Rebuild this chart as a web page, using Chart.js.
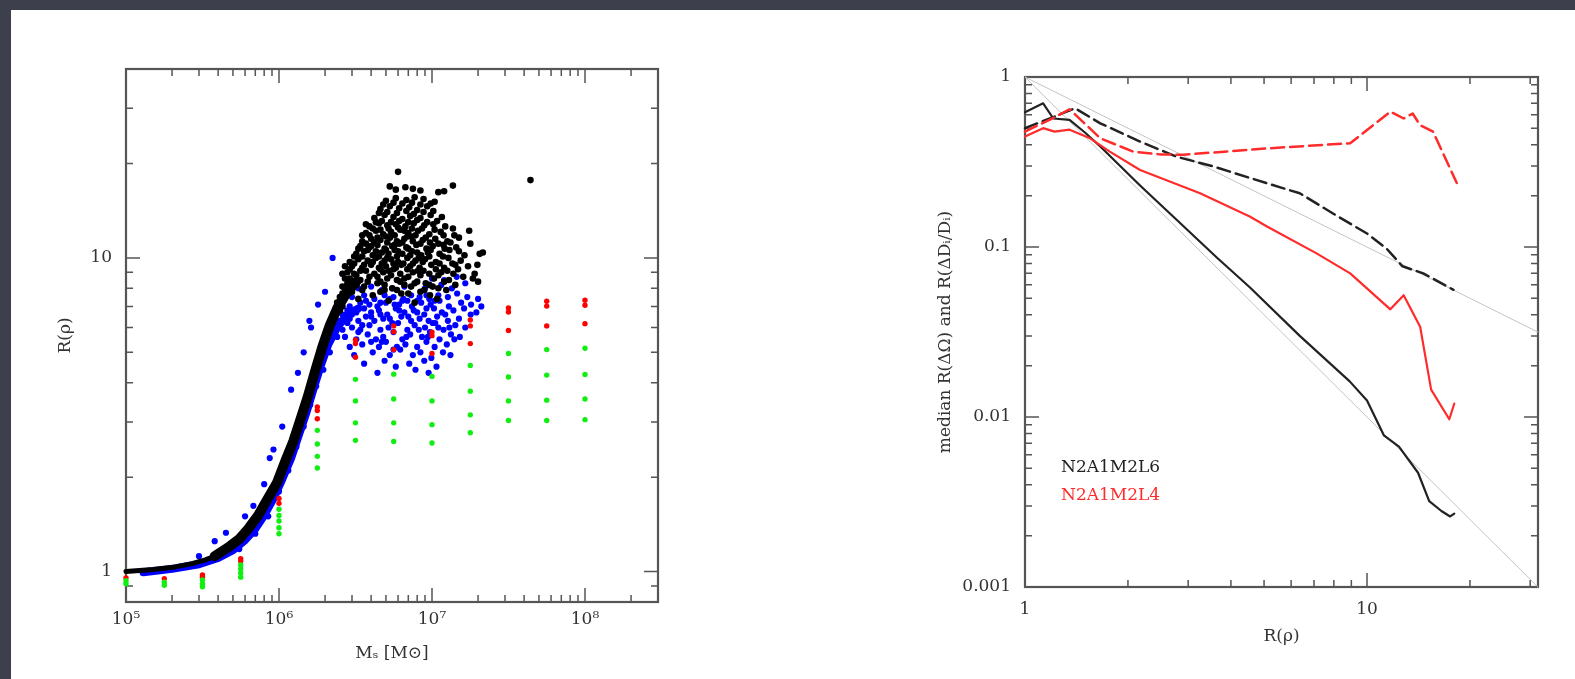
<!DOCTYPE html>
<html>
<head>
<meta charset="utf-8">
<script src="https://cdn.jsdelivr.net/npm/chart.js@4.4.1/dist/chart.umd.min.js"></script>
<style>
  body { margin: 0; width: 1575px; height: 679px; overflow: hidden; background: #3d404c; position: relative; }
  #sheet { position: absolute; left: 11px; top: 10px; right: 0; bottom: 0; background: #fff; }
  #massPlot { position: absolute; left: 0; top: 0; }
  #medianPlot { position: absolute; left: 760px; top: 0; }
</style>
</head>
<body>
<div id="sheet"></div>
<canvas id="massPlot" width="720" height="679"></canvas>
<canvas id="medianPlot" width="815" height="679"></canvas>
<script>
// ---- left panel: R(rho) against satellite mass ----
const massTicks = [1e5, 1e6, 1e7, 1e8];
const massLabels = ['10⁵', '10⁶', '10⁷', '10⁸'];
const ratioTicks = [1, 10];
const ratioLabels = ['1', '10'];

// runs sampled on a grid of masses (quarter decades)
const gridMass = [1e5, 1.78e5, 3.16e5, 5.62e5, 1e6, 1.78e6, 3.16e6, 5.62e6, 1e7, 1.78e7, 3.16e7, 5.62e7, 1e8];
const gridGreen = [
  [0.935, 0.915], [0.925, 0.905], [0.94, 0.915, 0.895], [1.05, 1.02, 0.99, 0.96],
  [1.58, 1.51, 1.45, 1.38, 1.32], [2.82, 2.55, 2.33, 2.14], [4.1, 3.5, 2.98, 2.62],
  [4.26, 3.55, 2.98, 2.6], [4.19, 3.5, 2.94, 2.57], [4.54, 3.76, 3.16, 2.77],
  [4.96, 4.17, 3.5, 3.03], [5.1, 4.23, 3.52, 3.03], [5.15, 4.25, 3.55, 3.05]
];
const gridRed = [
  [0.955], [0.95], [0.975, 0.96], [1.1, 1.08], [1.71, 1.65], [3.35, 3.26, 3.07],
  [5.48, 5.33, 4.82], [6.07, 5.81, 5.1], [5.8, 5.65, 4.96], [6.34, 6.07, 5.33],
  [6.92, 6.72, 5.87], [7.27, 7.02, 6.07], [7.33, 7.06, 6.17]
];

// dense ridge of the population
const ridgeLow = [[1e5, 1.0], [1.5e5, 1.015], [2.1e5, 1.035], [2.7e5, 1.06], [3.3e5, 1.09], [4e5, 1.13]];
const ridgeBlack = [[3.8e5, 1.12], [4.6e5, 1.19], [5.5e5, 1.27], [6.3e5, 1.37], [7.3e5, 1.51], [8.4e5, 1.7],
  [9.7e5, 1.92], [1.1e6, 2.25], [1.24e6, 2.6], [1.38e6, 3.05], [1.54e6, 3.6], [1.72e6, 4.35], [1.92e6, 5.2],
  [2.15e6, 6.1], [2.4e6, 6.9], [2.75e6, 7.7], [3.2e6, 8.4]];
const ridgeBlue = [[1.3e5, 0.995], [2e5, 1.02], [3e5, 1.055], [4e5, 1.105], [5e5, 1.17], [6e5, 1.26], [7e5, 1.37],
  [8e5, 1.51], [9.2e5, 1.71], [1.05e6, 1.97], [1.2e6, 2.3], [1.35e6, 2.73], [1.5e6, 3.18], [1.68e6, 3.82],
  [1.88e6, 4.55], [2.1e6, 5.3], [2.4e6, 6.0], [2.8e6, 6.6], [3.3e6, 6.9]];

const cloudBlack = [
  [2.4e6, 7.2], [3.3e6, 7.4], [5.2e6, 7.3], [7.7e6, 7.2], [10.8e6, 7.4],
  [2.6e6, 7.7], [3.0e6, 7.8], [4.1e6, 7.6], [4.9e6, 7.9], [6.3e6, 7.7], [8.4e6, 7.8], [9.7e6, 7.6], [12.4e6, 7.9],
  [2.7e6, 8.0], [3.2e6, 8.2], [3.6e6, 8.1], [4.4e6, 8.3], [5.5e6, 8.0], [6.6e6, 8.2], [7.3e6, 8.1], [9.1e6, 8.3], [11.0e6, 8.0], [14.2e6, 8.2],
  [2.9e6, 8.6], [3.4e6, 8.5], [3.9e6, 8.7], [4.6e6, 8.4], [5.1e6, 8.6], [5.9e6, 8.5], [7.0e6, 8.7], [8.0e6, 8.4], [10.3e6, 8.6], [12.9e6, 8.5], [16.0e6, 8.7],
  [2.8e6, 9.0], [3.1e6, 8.9], [3.7e6, 9.1], [4.2e6, 8.9], [4.8e6, 9.0], [5.6e6, 9.2], [6.2e6, 8.9], [7.5e6, 9.0], [8.8e6, 9.1], [9.6e6, 8.9], [11.5e6, 9.0], [14.8e6, 9.2], [18.5e6, 8.6],
  [3.0e6, 9.4], [3.5e6, 9.3], [4.0e6, 9.5], [4.5e6, 9.3], [5.0e6, 9.4], [5.8e6, 9.3], [6.5e6, 9.6], [7.2e6, 9.4], [8.3e6, 9.3], [9.9e6, 9.5], [12.0e6, 9.3], [13.6e6, 9.6], [17.2e6, 9.4],
  [2.9e6, 9.7], [3.3e6, 9.9], [3.8e6, 9.8], [4.3e6, 10.0], [4.9e6, 9.8], [5.4e6, 9.9], [6.0e6, 9.7], [6.9e6, 10.0], [7.8e6, 9.8], [9.0e6, 9.9], [10.6e6, 9.7], [12.8e6, 10.0], [15.4e6, 9.8], [19.8e6, 9.5],
  [3.2e6, 10.3], [3.6e6, 10.5], [4.1e6, 10.2], [4.7e6, 10.4], [5.2e6, 10.3], [5.7e6, 10.6], [6.4e6, 10.3], [7.4e6, 10.5], [8.5e6, 10.2], [9.4e6, 10.4], [11.2e6, 10.3], [13.0e6, 10.6], [16.3e6, 10.2], [21.5e6, 10.4],
  [3.4e6, 10.9], [3.9e6, 10.8], [4.4e6, 11.0], [4.9e6, 10.7], [5.5e6, 10.9], [6.1e6, 11.1], [6.8e6, 10.8], [7.9e6, 11.0], [9.2e6, 10.7], [10.1e6, 10.9], [11.9e6, 11.0], [14.4e6, 10.8], [17.8e6, 11.1],
  [3.5e6, 11.3], [4.0e6, 11.5], [4.6e6, 11.4], [5.3e6, 11.6], [5.9e6, 11.3], [6.6e6, 11.5], [7.3e6, 11.7], [8.7e6, 11.4], [10.5e6, 11.5], [12.6e6, 11.3], [15.0e6, 11.6],
  [3.7e6, 12.0], [4.3e6, 12.2], [4.8e6, 11.9], [5.4e6, 12.1], [6.2e6, 12.3], [7.0e6, 12.0], [8.1e6, 12.2], [9.6e6, 11.9], [11.4e6, 12.1], [13.7e6, 12.4],
  [3.9e6, 12.6], [4.5e6, 12.9], [5.1e6, 12.7], [5.8e6, 12.8], [6.7e6, 12.6], [7.6e6, 12.9], [8.9e6, 12.7], [10.2e6, 12.8], [12.2e6, 12.6],
  [4.2e6, 13.4], [4.9e6, 13.7], [5.6e6, 13.5], [6.4e6, 13.3], [7.2e6, 13.6], [8.4e6, 13.4], [9.8e6, 13.7], [11.6e6, 13.5],
  [4.6e6, 14.3], [5.3e6, 14.6], [6.1e6, 14.4], [7.1e6, 14.5], [8.0e6, 14.2], [9.3e6, 14.6],
  [5.0e6, 15.2], [5.8e6, 15.5], [6.8e6, 15.3], [7.7e6, 15.6], [8.8e6, 15.4], [10.4e6, 15.1],
  [3.5e6, 7.9], [4.6e6, 7.8], [5.9e6, 7.9], [7.0e6, 7.7], [8.9e6, 7.9], [10.1e6, 8.1],
  [3.0e6, 8.3], [3.8e6, 8.4], [4.9e6, 8.2], [6.2e6, 8.4], [7.7e6, 8.3], [9.6e6, 8.2], [12.0e6, 8.4],
  [3.2e6, 8.8], [4.4e6, 8.7], [5.4e6, 8.8], [6.6e6, 8.6], [8.4e6, 8.8], [11.0e6, 8.8], [13.8e6, 8.9],
  [3.4e6, 9.1], [4.6e6, 9.2], [5.2e6, 9.1], [6.9e6, 9.2], [8.1e6, 9.1], [10.6e6, 9.2], [12.6e6, 9.1],
  [3.1e6, 9.6], [4.1e6, 9.7], [4.7e6, 9.6], [5.6e6, 9.6], [6.3e6, 9.5], [7.5e6, 9.6], [8.7e6, 9.7], [11.2e6, 9.6], [14.2e6, 9.5],
  [3.5e6, 10.1], [4.5e6, 10.1], [5.1e6, 10.0], [5.9e6, 10.1], [7.2e6, 10.2], [8.2e6, 10.0], [9.6e6, 10.1], [11.8e6, 10.1],
  [3.8e6, 10.6], [4.3e6, 10.5], [5.0e6, 10.6], [6.0e6, 10.5], [7.0e6, 10.7], [8.0e6, 10.4], [9.8e6, 10.6], [12.1e6, 10.7], [15.0e6, 10.5],
  [3.7e6, 11.1], [4.2e6, 11.2], [5.1e6, 11.2], [5.7e6, 11.0], [6.4e6, 11.2], [7.5e6, 11.3], [8.4e6, 11.1], [9.7e6, 11.2], [11.0e6, 11.1], [13.2e6, 11.2],
  [3.9e6, 11.8], [4.4e6, 11.6], [5.0e6, 11.7], [5.7e6, 11.8], [6.9e6, 11.7], [7.8e6, 11.8], [9.1e6, 11.6], [11.9e6, 11.8], [14.0e6, 11.8],
  [4.1e6, 12.4], [4.6e6, 12.3], [5.2e6, 12.4], [6.0e6, 12.5], [6.6e6, 12.2], [7.4e6, 12.4], [8.6e6, 12.4], [10.4e6, 12.3],
  [4.3e6, 13.0], [4.7e6, 13.1], [5.4e6, 13.0], [6.1e6, 13.1], [7.0e6, 13.0], [8.0e6, 13.2], [9.3e6, 13.0], [10.8e6, 13.1],
  [4.5e6, 13.9], [5.1e6, 14.0], [5.9e6, 13.9], [6.8e6, 14.1], [7.6e6, 13.8], [8.8e6, 14.0], [10.2e6, 14.1],
  [4.8e6, 14.8], [5.6e6, 15.0], [6.4e6, 14.9], [7.4e6, 15.0], [8.4e6, 14.8], [9.8e6, 14.9],
  [2.5e6, 7.5], [2.6e6, 8.1], [2.7e6, 8.6], [2.8e6, 8.3], [2.9e6, 9.2], [3.0e6, 8.0], [2.6e6, 7.0], [2.5e6, 6.8],
  [2.7e6, 9.4], [3.1e6, 10.1], [3.3e6, 10.7], [3.5e6, 11.8], [3.7e6, 12.8], [2.6e6, 8.9], [3.6e6, 9.5], [4.0e6, 10.9],
  [6.0e6, 18.8], [5.3e6, 16.9], [5.8e6, 16.5], [6.7e6, 16.8], [7.5e6, 16.6], [8.4e6, 16.4], [11.0e6, 16.2],
  [12.0e6, 16.3], [13.7e6, 17.0], [44e6, 17.7], [17.5e6, 12.2], [20.5e6, 10.3], [19.0e6, 8.9], [20e6, 8.4]
];

const cloudBlue = [
  [4.4e6, 4.3], [7.8e6, 4.4], [9.5e6, 4.3],
  [3.6e6, 4.6], [4.9e6, 4.7], [5.8e6, 4.5], [7.1e6, 4.6], [8.9e6, 4.7], [10.7e6, 4.5],
  [3.1e6, 4.9], [4.1e6, 5.0], [5.3e6, 4.9], [6.2e6, 5.1], [7.5e6, 4.9], [8.4e6, 5.0], [9.9e6, 4.8], [11.8e6, 5.0], [13.2e6, 4.9],
  [2.9e6, 5.2], [3.5e6, 5.3], [4.5e6, 5.2], [5.0e6, 5.4], [5.9e6, 5.2], [6.7e6, 5.3], [8.0e6, 5.2], [9.2e6, 5.4], [10.4e6, 5.2], [12.5e6, 5.3], [14.0e6, 5.5],
  [2.7e6, 5.6], [3.2e6, 5.5], [3.8e6, 5.7], [4.3e6, 5.5], [4.8e6, 5.6], [5.6e6, 5.8], [6.4e6, 5.5], [7.2e6, 5.7], [8.6e6, 5.6], [9.7e6, 5.8], [11.2e6, 5.5], [13.3e6, 5.7], [15.2e6, 5.6],
  [2.6e6, 5.9], [3.0e6, 6.0], [3.4e6, 5.9], [3.9e6, 6.1], [4.6e6, 5.9], [5.2e6, 6.0], [6.0e6, 6.2], [6.9e6, 5.9], [7.7e6, 6.1], [9.0e6, 6.0], [10.1e6, 6.2], [11.9e6, 5.9], [14.2e6, 6.1], [16.5e6, 6.0],
  [2.5e6, 6.3], [2.9e6, 6.4], [3.3e6, 6.3], [3.7e6, 6.5], [4.2e6, 6.3], [4.8e6, 6.4], [5.5e6, 6.2], [6.3e6, 6.5], [7.3e6, 6.3], [8.3e6, 6.4], [9.5e6, 6.3], [10.8e6, 6.5], [12.7e6, 6.3], [15.0e6, 6.4], [17.9e6, 6.6],
  [2.4e6, 6.7], [2.8e6, 6.8], [3.2e6, 6.7], [3.6e6, 6.9], [4.0e6, 6.7], [4.5e6, 6.8], [5.1e6, 6.6], [5.8e6, 6.9], [6.6e6, 6.7], [7.6e6, 6.8], [8.9e6, 6.6], [10.3e6, 6.9], [11.6e6, 6.7], [13.8e6, 6.8], [16.2e6, 6.9], [19.5e6, 6.7],
  [2.5e6, 7.1], [2.9e6, 7.0], [3.4e6, 7.2], [3.9e6, 7.1], [4.4e6, 7.0], [5.0e6, 7.2], [5.7e6, 7.1], [6.4e6, 7.3], [7.4e6, 7.0], [8.5e6, 7.2], [9.8e6, 7.1], [11.2e6, 7.3], [12.9e6, 7.0], [15.5e6, 7.2], [18.0e6, 7.1], [21.0e6, 7.0],
  [3.0e6, 7.5], [3.6e6, 7.6], [4.2e6, 7.4], [4.9e6, 7.6], [5.6e6, 7.5], [6.5e6, 7.4], [7.3e6, 7.6], [8.3e6, 7.5], [9.6e6, 7.4], [11.0e6, 7.6], [12.7e6, 7.5], [14.6e6, 7.7], [17.0e6, 7.5],
  [3.3e6, 8.0], [4.0e6, 8.1], [4.7e6, 7.9], [5.5e6, 8.0], [6.6e6, 8.1], [9.0e6, 8.0], [11.5e6, 8.2], [13.5e6, 8.0], [16.5e6, 8.3],
  [12.0e6, 8.5], [14.5e6, 8.7], [10.0e6, 8.6], [20.0e6, 7.4],
  [3.0e6, 6.6], [3.5e6, 6.1], [4.0e6, 6.5], [4.6e6, 6.6], [5.3e6, 6.4], [6.1e6, 6.8], [7.0e6, 6.5], [8.0e6, 6.7],
  [9.2e6, 6.9], [10.5e6, 6.2], [12.2e6, 6.6], [3.3e6, 5.8], [4.0e6, 5.4], [4.7e6, 5.4], [5.6e6, 5.1], [6.8e6, 5.6],
  [8.2e6, 5.9], [9.4e6, 5.6], [11.0e6, 6.0], [13.0e6, 6.0], [3.7e6, 7.3], [4.6e6, 7.2], [5.3e6, 7.4], [6.1e6, 7.1],
  [6.9e6, 7.3], [8.0e6, 7.3], [9.2e6, 7.6], [10.4e6, 7.3], [2.8e6, 6.2], [2.6e6, 6.6],
  [1.3e6, 2.5], [1.45e6, 2.9], [1.6e6, 3.4], [1.75e6, 3.9], [1.95e6, 4.4], [2.15e6, 5.0], [2.4e6, 5.6],
  [1.15e6, 2.1], [1.0e6, 1.8], [0.85e6, 1.5], [0.7e6, 1.32], [0.55e6, 1.18],
  [0.3e6, 1.12], [0.38e6, 1.25], [0.45e6, 1.33], [0.6e6, 1.5], [0.68e6, 1.62], [0.8e6, 1.9], [0.87e6, 2.3],
  [0.92e6, 2.45], [1.05e6, 2.9], [1.2e6, 3.8], [1.33e6, 4.3], [1.45e6, 5.0], [1.58e6, 6.3], [1.62e6, 6.0],
  [1.8e6, 7.1], [2.0e6, 7.8], [2.24e6, 10.0], [2.6e6, 8.9]
];

// ---- right panel: median R(dOmega) and R(dD/D) against R(rho) ----
const rhoTicks = [1, 10];
const rhoLabels = ['1', '10'];
const medianTicks = [0.001, 0.01, 0.1, 1];
const medianLabels = ['0.001', '0.01', '0.1', '1'];
const runNames = ['N2A1M2L6', 'N2A1M2L4'];
const runColors = ['#222222', '#ff2b2b'];

const l6Solid = [[1, 0.62], [1.13, 0.70], [1.21, 0.57], [1.35, 0.56], [1.5, 0.47], [1.66, 0.39], [2.17, 0.23],
  [2.77, 0.145], [3.63, 0.087], [4.54, 0.058], [6.36, 0.030], [8.9, 0.0162], [10, 0.0125], [11.2, 0.0078],
  [12.4, 0.0067], [14.1, 0.0047], [15.2, 0.0032], [16.5, 0.0028], [17.5, 0.0026], [18, 0.0027]];
const l6Dashed = [[1, 0.50], [1.22, 0.585], [1.40, 0.655], [1.66, 0.534], [2.17, 0.417], [2.77, 0.34],
  [3.55, 0.298], [5.1, 0.237], [6.36, 0.207], [7.93, 0.158], [10, 0.12], [11.4, 0.098], [12.7, 0.077],
  [14.6, 0.070], [17.9, 0.056]];
const l4Solid = [[1, 0.446], [1.13, 0.50], [1.22, 0.477], [1.35, 0.49], [1.55, 0.436], [1.77, 0.364],
  [2.17, 0.284], [3.25, 0.207], [4.54, 0.151], [5.1, 0.132], [7.1, 0.092], [8.93, 0.070], [11.7, 0.043],
  [12.8, 0.052], [14.3, 0.034], [15.4, 0.0145], [17.4, 0.0097], [18, 0.012]];
const l4Dashed = [[1, 0.477], [1.2, 0.57], [1.35, 0.646], [1.66, 0.436], [2.07, 0.364], [2.5, 0.35],
  [2.9, 0.349], [5.1, 0.38], [8.93, 0.408], [11.7, 0.625], [12.8, 0.57], [13.6, 0.61], [14.3, 0.52],
  [15.6, 0.477], [18.3, 0.238]];
// reference slopes -1 and -2
const guideShallow = [[1, 1], [31.6, 0.0316]];
const guideSteep = [[1, 1], [31.6, 0.001]];

const serif = 'DejaVu Serif';
const inkColor = '#333';

function pts(list) {
  return list.map(p => ({ x: p[0], y: p[1] }));
}

function gridPoints(values) {
  const out = [];
  values.forEach((col, i) => col.forEach(v => out.push({ x: gridMass[i], y: v })));
  return out;
}

function dots(data, color, r) {
  return { data: data, backgroundColor: color, borderColor: color, borderWidth: 0, pointRadius: r, clip: false };
}

function curve(list, color, width, dash) {
  return {
    data: pts(list), showLine: true, pointRadius: 0, borderColor: color, borderWidth: width,
    borderDash: dash || [], borderCapStyle: 'round', borderJoinStyle: 'round', tension: 0, clip: false
  };
}

// log ticks 1..9 per decade inside the scale range
function decadeTicks(scale) {
  const out = [];
  const k0 = Math.floor(Math.log10(scale.min));
  const k1 = Math.ceil(Math.log10(scale.max));
  for (let k = k0; k <= k1; k++) {
    for (let m = 1; m <= 9; m++) {
      const v = m * Math.pow(10, k);
      if (v >= scale.min * 0.999 && v <= scale.max * 1.001) out.push({ value: v, major: m === 1 });
    }
  }
  return out;
}

// closed box with inward ticks on all four sides
const boxTicks = {
  id: 'boxTicks',
  beforeDatasetsDraw(chart) {
    const { ctx, chartArea: a, scales } = chart;
    ctx.save();
    ctx.strokeStyle = '#555';
    ctx.lineWidth = 1.5;
    ctx.beginPath();
    decadeTicks(scales.x).forEach(t => {
      const p = scales.x.getPixelForValue(t.value);
      const len = t.major ? 14 : 7;
      ctx.moveTo(p, a.bottom); ctx.lineTo(p, a.bottom - len);
      ctx.moveTo(p, a.top); ctx.lineTo(p, a.top + len);
    });
    decadeTicks(scales.y).forEach(t => {
      const p = scales.y.getPixelForValue(t.value);
      const len = t.major ? 14 : 7;
      ctx.moveTo(a.left, p); ctx.lineTo(a.left + len, p);
      ctx.moveTo(a.right, p); ctx.lineTo(a.right - len, p);
    });
    ctx.stroke();
    ctx.lineWidth = 2.2;
    ctx.strokeRect(a.left, a.top, a.right - a.left, a.bottom - a.top);
    ctx.restore();
  }
};

const runLabels = {
  id: 'runLabels',
  afterDatasetsDraw(chart) {
    const { ctx, chartArea: a } = chart;
    const h = a.bottom - a.top;
    ctx.save();
    ctx.font = '17px "' + serif + '"';
    ctx.textBaseline = 'middle';
    runNames.forEach((name, i) => {
      ctx.fillStyle = runColors[i];
      ctx.fillText(name, a.left + 36, a.top + h * (0.765 + i * 0.055));
    });
    ctx.restore();
  }
};

function logAxis(min, max, ticks, labels, size, isX, title, tickPad, titlePad) {
  return {
    type: 'logarithmic',
    min: min,
    max: max,
    afterBuildTicks: s => { s.ticks = ticks.map(v => ({ value: v })); },
    afterFit: s => { if (isX) s.height = size; else s.width = size; },
    grid: { display: false, drawTicks: false },
    border: { display: false },
    ticks: {
      autoSkip: false, maxRotation: 0, padding: tickPad,
      color: inkColor, font: { family: serif, size: 17 },
      callback: (v, i) => labels[i]
    },
    title: {
      display: true, text: title, color: inkColor,
      font: { family: serif, size: 17 },
      padding: isX ? { top: 0, bottom: titlePad } : { top: titlePad, bottom: 0 }
    }
  };
}

const common = {
  responsive: false,
  animation: false,
  events: [],
  plugins: { legend: { display: false }, tooltip: { enabled: false } }
};

new Chart(document.getElementById('massPlot'), {
  type: 'scatter',
  data: {
    datasets: [
      dots(gridPoints(gridGreen), '#11ee11', 2.7),
      dots(gridPoints(gridRed), '#ff0000', 2.7),
      dots(pts(cloudBlack), '#000000', 3.3),
      curve(ridgeLow, '#000000', 5),
      curve(ridgeBlack, '#000000', 10),
      dots(pts(cloudBlue), '#0000ff', 3.1),
      curve(ridgeBlue, '#0000ff', 8)
    ]
  },
  options: Object.assign({}, common, {
    layout: { padding: { left: 0, top: 69, right: 62, bottom: 0 } },
    scales: {
      x: logAxis(1e5, 3e8, massTicks, massLabels, 77, true, 'Mₛ [M⊙]', 7, 15),
      y: logAxis(0.8, 40, ratioTicks, ratioLabels, 126, false, 'R(ρ)', 14, 55)
    }
  }),
  plugins: [boxTicks]
});

new Chart(document.getElementById('medianPlot'), {
  type: 'scatter',
  data: {
    datasets: [
      curve(l4Dashed, '#ff2b2b', 2.5, [13, 6]),
      curve(l4Solid, '#ff2b2b', 2.2),
      curve(l6Dashed, '#222222', 2.5, [13, 6]),
      curve(l6Solid, '#222222', 2.2),
      curve(guideShallow, '#c4c4c4', 1),
      curve(guideSteep, '#c4c4c4', 1)
    ]
  },
  options: Object.assign({}, common, {
    layout: { padding: { left: 0, top: 77, right: 37, bottom: 0 } },
    scales: {
      x: logAxis(1, 31.62, rhoTicks, rhoLabels, 92, true, 'R(ρ)', 12, 32),
      y: logAxis(0.001, 1, medianTicks, medianLabels, 265, false, 'median R(ΔΩ) and R(ΔDᵢ/Dᵢ)', 14, 175)
    }
  }),
  plugins: [boxTicks, runLabels]
});
</script>
</body>
</html>
